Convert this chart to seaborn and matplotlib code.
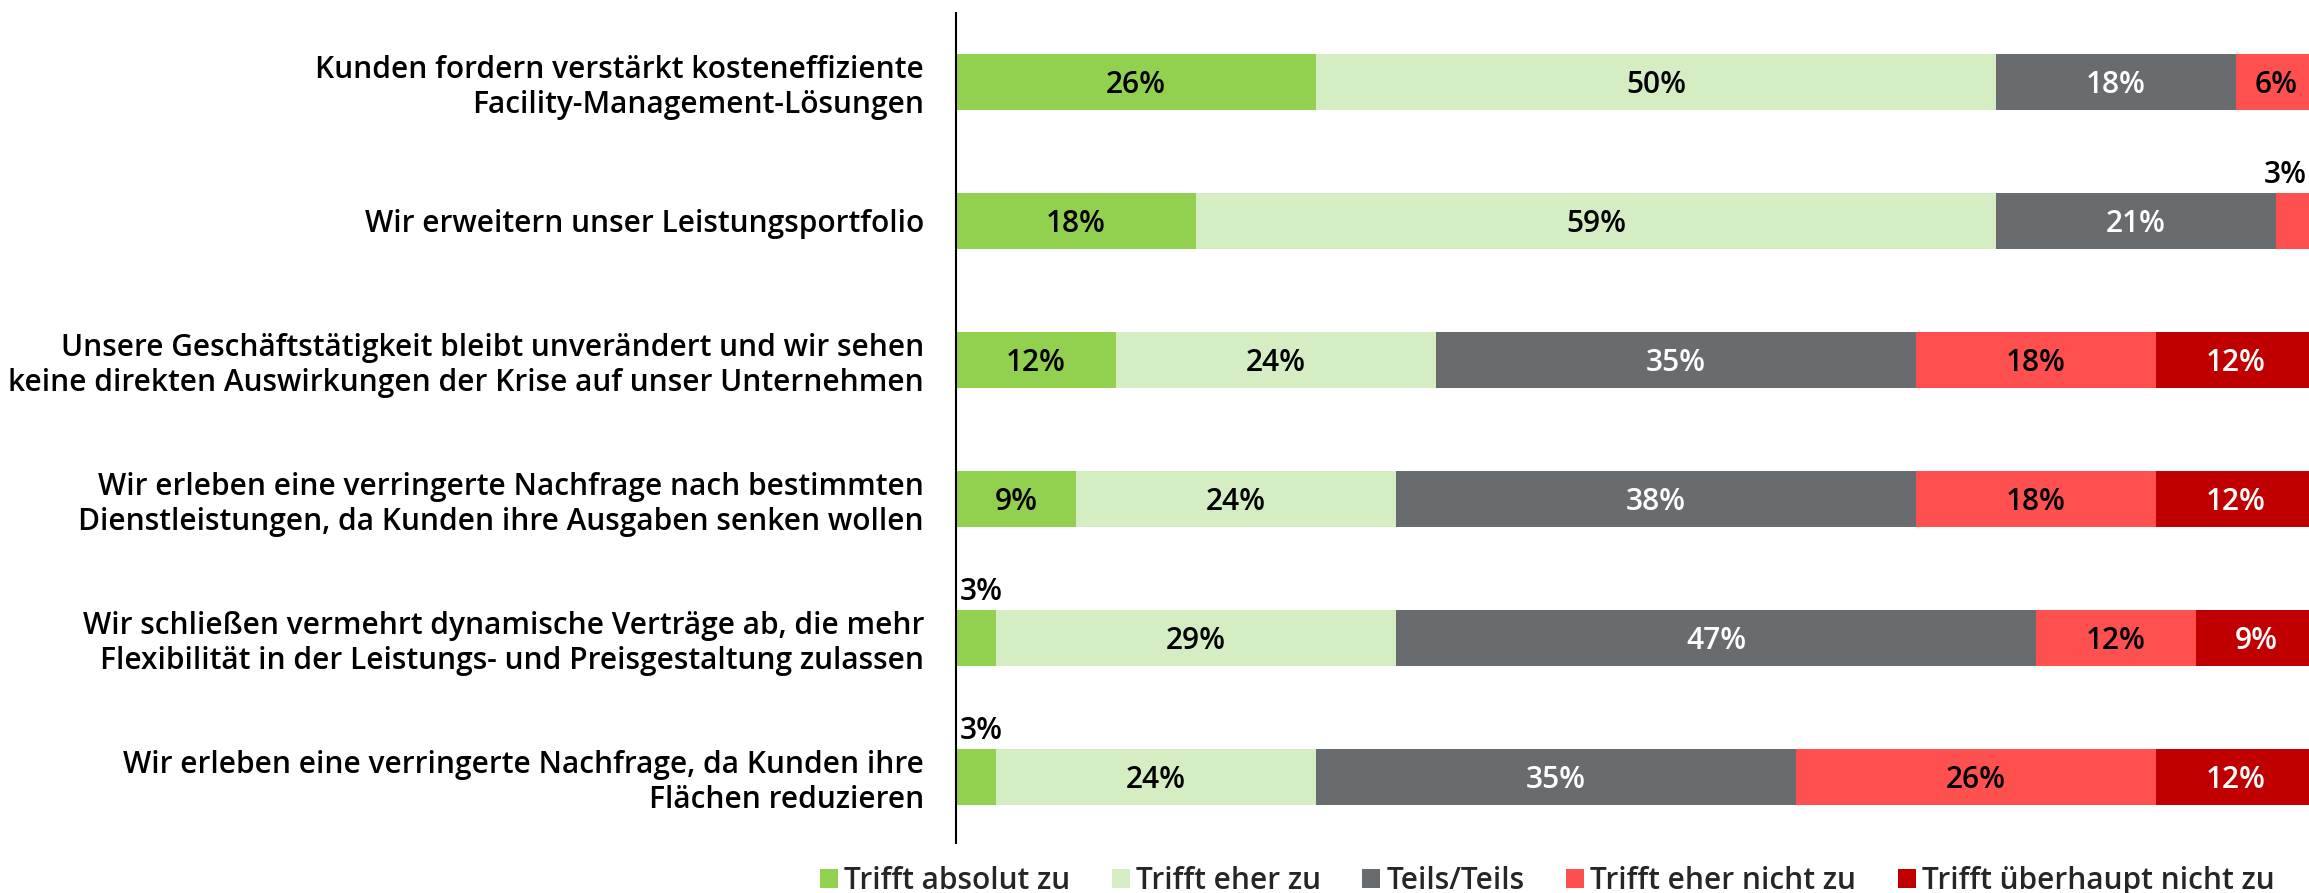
import matplotlib
matplotlib.use("Agg")
import matplotlib.pyplot as plt
import seaborn as sns
import pandas as pd
import numpy as np
from matplotlib.patches import Patch

# ---------------- data ----------------
categories = [
    "Kunden fordern verstärkt kosteneffiziente\nFacility-Management-Lösungen",
    "Wir erweitern unser Leistungsportfolio",
    "Unsere Geschäftstätigkeit bleibt unverändert und wir sehen\nkeine direkten Auswirkungen der Krise auf unser Unternehmen",
    "Wir erleben eine verringerte Nachfrage nach bestimmten\nDienstleistungen, da Kunden ihre Ausgaben senken wollen",
    "Wir schließen vermehrt dynamische Verträge ab, die mehr\nFlexibilität in der Leistungs- und Preisgestaltung zulassen",
    "Wir erleben eine verringerte Nachfrage, da Kunden ihre\nFlächen reduzieren",
]
series_names = ["Trifft absolut zu", "Trifft eher zu", "Teils/Teils",
                "Trifft eher nicht zu", "Trifft überhaupt nicht zu"]
absolut_zu       = [26.47, 17.65, 11.76, 8.82, 2.94, 2.94]
eher_zu          = [50.00, 58.82, 23.53, 23.53, 29.41, 23.53]
teils_teils      = [17.65, 20.59, 35.29, 38.24, 47.06, 35.29]
eher_nicht_zu    = [5.88, 2.94, 17.65, 17.65, 11.76, 26.47]
ueberhaupt_nicht = [0.0, 0.0, 11.76, 11.76, 8.82, 11.76]

colors = ["#92D050", "#D4EDC3", "#686C6E", "#FF5050", "#C00000"]
label_colors = ["black", "black", "white", "black", "white"]

# ---------------- style ----------------
sns.set_theme(style="white")
plt.rcParams["font.family"] = ["Open Sans", "DejaVu Sans"]
plt.rcParams["font.weight"] = "semibold"
FS = 21.5

series = [absolut_zu, eher_zu, teils_teils, eher_nicht_zu, ueberhaupt_nicht]
df = pd.DataFrame({"category": categories})
for name, vals in zip(series_names, series):
    df[name] = vals
cum = df[series_names].cumsum(axis=1)

W, H = 2309, 893
fig = plt.figure(figsize=(W / 100, H / 100), dpi=100)
ax = fig.add_axes([956 / W, 50 / H, 1360 / W, 830 / H])

# stacked bars: draw cumulative totals from the last series back to the first
for i in reversed(range(len(series_names))):
    sns.barplot(x=cum[series_names[i]], y=df["category"], orient="h",
                color=colors[i], saturation=1, width=0.4, linewidth=0, ax=ax)

ax.set_xlim(0, 100)
ax.set_ylim(5.475, -0.496)
ax.set_xlabel("")
ax.set_ylabel("")
ax.set_xticks([])
for s in ["top", "right", "bottom"]:
    ax.spines[s].set_visible(False)
ax.spines["left"].set_color("black")
ax.spines["left"].set_linewidth(1.5)
ax.tick_params(axis="y", length=0, pad=23, labelsize=FS)
for t in ax.get_yticklabels():
    t.set_fontweight("semibold")
    t.set_color("black")

# segment labels
for r in range(len(categories)):
    start = 0.0
    for i, name in enumerate(series_names):
        v = df.loc[r, name]
        if v <= 0:
            continue
        txt = f"{round(v)}%"
        center = start + v / 2
        if v >= 5:
            ax.text(center, r, txt, ha="center", va="center_baseline",
                    fontsize=FS, color=label_colors[i], fontweight="semibold")
        else:
            if start + v >= 99:
                ax.annotate(txt, xy=(start + v, r - 0.2), xytext=(-6.5, 7.5),
                            textcoords="offset points", ha="right", va="baseline",
                            fontsize=FS, color="black", fontweight="semibold",
                            annotation_clip=False)
            else:
                ax.annotate(txt, xy=(center, r - 0.2), xytext=(4, 7.5),
                            textcoords="offset points", ha="center", va="baseline",
                            fontsize=FS, color="black", fontweight="semibold",
                            annotation_clip=False)
        start += v

handles = [Patch(facecolor=c, edgecolor="none") for c in colors]
fig.legend(handles, series_names, loc="center", bbox_to_anchor=(1547 / W, 12 / H),
           ncol=5, frameon=False, handlelength=0.6, handleheight=0.65,
           handletextpad=0.2, columnspacing=1.4, fontsize=FS, borderaxespad=0,
           borderpad=0)

fig.savefig("out.png", dpi=100)
